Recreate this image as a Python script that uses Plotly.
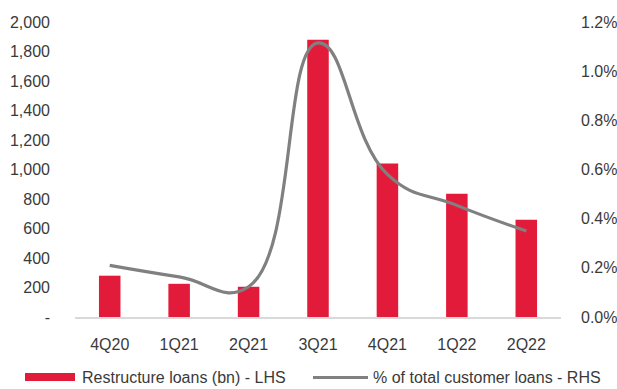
import plotly.graph_objects as go

categories = ["4Q20", "1Q21", "2Q21", "3Q21", "4Q21", "1Q22", "2Q22"]
restructured_loans_bn = [280, 225, 205, 1880, 1040, 835, 660]
pct_of_customer_loans = [0.0021, 0.00163, 0.00123, 0.01115, 0.0058, 0.00454, 0.0035]
left_tickvals = [0, 200, 400, 600, 800, 1000, 1200, 1400, 1600, 1800, 2000]
left_ticktext = ["-", "200", "400", "600", "800", "1,000", "1,200", "1,400", "1,600", "1,800", "2,000"]
right_tickvals = [0, 0.002, 0.004, 0.006, 0.008, 0.010, 0.012]
legend_names = ["Restructure loans (bn) - LHS", "% of total customer loans - RHS"]

RED = "#E31B3B"
GRAY = "#808080"
TXT = "#3a3a3a"
FONT = "Liberation Sans, Arial, sans-serif"

fig = go.Figure()
fig.add_trace(go.Bar(x=categories, y=restructured_loans_bn, marker_color=RED,
                     marker_line_width=0, width=0.31, yaxis="y", showlegend=False))
fig.add_trace(go.Scatter(x=categories, y=pct_of_customer_loans, mode="lines",
                         line=dict(color=GRAY, width=3.2, shape="spline", smoothing=1.3),
                         yaxis="y2", showlegend=False))

W, H = 617, 389
L, R, T, B = 75, 56, 22, 72
pw, ph = W - L - R, H - T - B

def px_x(x):
    return (x - L) / pw

def px_y(y):
    return (H - B - y) / ph

shapes = [
    dict(type="rect", xref="paper", yref="paper", x0=px_x(25), x1=px_x(75),
         y0=px_y(373), y1=px_y(381), fillcolor=RED, line_width=0),
    dict(type="line", xref="paper", yref="paper", x0=px_x(313), x1=px_x(368),
         y0=px_y(377.5), y1=px_y(377.5), line=dict(color=GRAY, width=3.2)),
]
annotations = [
    dict(xref="paper", yref="paper", x=px_x(80), y=px_y(377.5), text=legend_names[0],
         showarrow=False, xanchor="left", yanchor="middle", font=dict(size=16, color=TXT, family=FONT)),
    dict(xref="paper", yref="paper", x=px_x(371), y=px_y(377.5), text=legend_names[1],
         showarrow=False, xanchor="left", yanchor="middle", font=dict(size=16, color=TXT, family=FONT)),
]

fig.update_layout(
    width=W, height=H,
    margin=dict(l=L, r=R, t=T, b=B, pad=0, autoexpand=False),
    paper_bgcolor="white", plot_bgcolor="white",
    font=dict(family=FONT, size=16, color=TXT),
    xaxis=dict(showgrid=False, showline=True, linecolor="#d9d9d9", linewidth=1.5,
               ticks="", tickfont=dict(size=16), ticklabelstandoff=12, automargin=False),
    yaxis=dict(range=[0, 2000], tickvals=left_tickvals, ticktext=left_ticktext,
               showgrid=False, zeroline=False, showline=False, ticks="",
               ticklabelstandoff=24, automargin=False),
    yaxis2=dict(range=[0, 0.012], tickvals=right_tickvals, tickformat=".1%",
                overlaying="y", side="right", showgrid=False, zeroline=False,
                showline=False, ticks="", ticklabelstandoff=19, automargin=False),
    shapes=shapes, annotations=annotations,
)

fig.write_html("out.html")
